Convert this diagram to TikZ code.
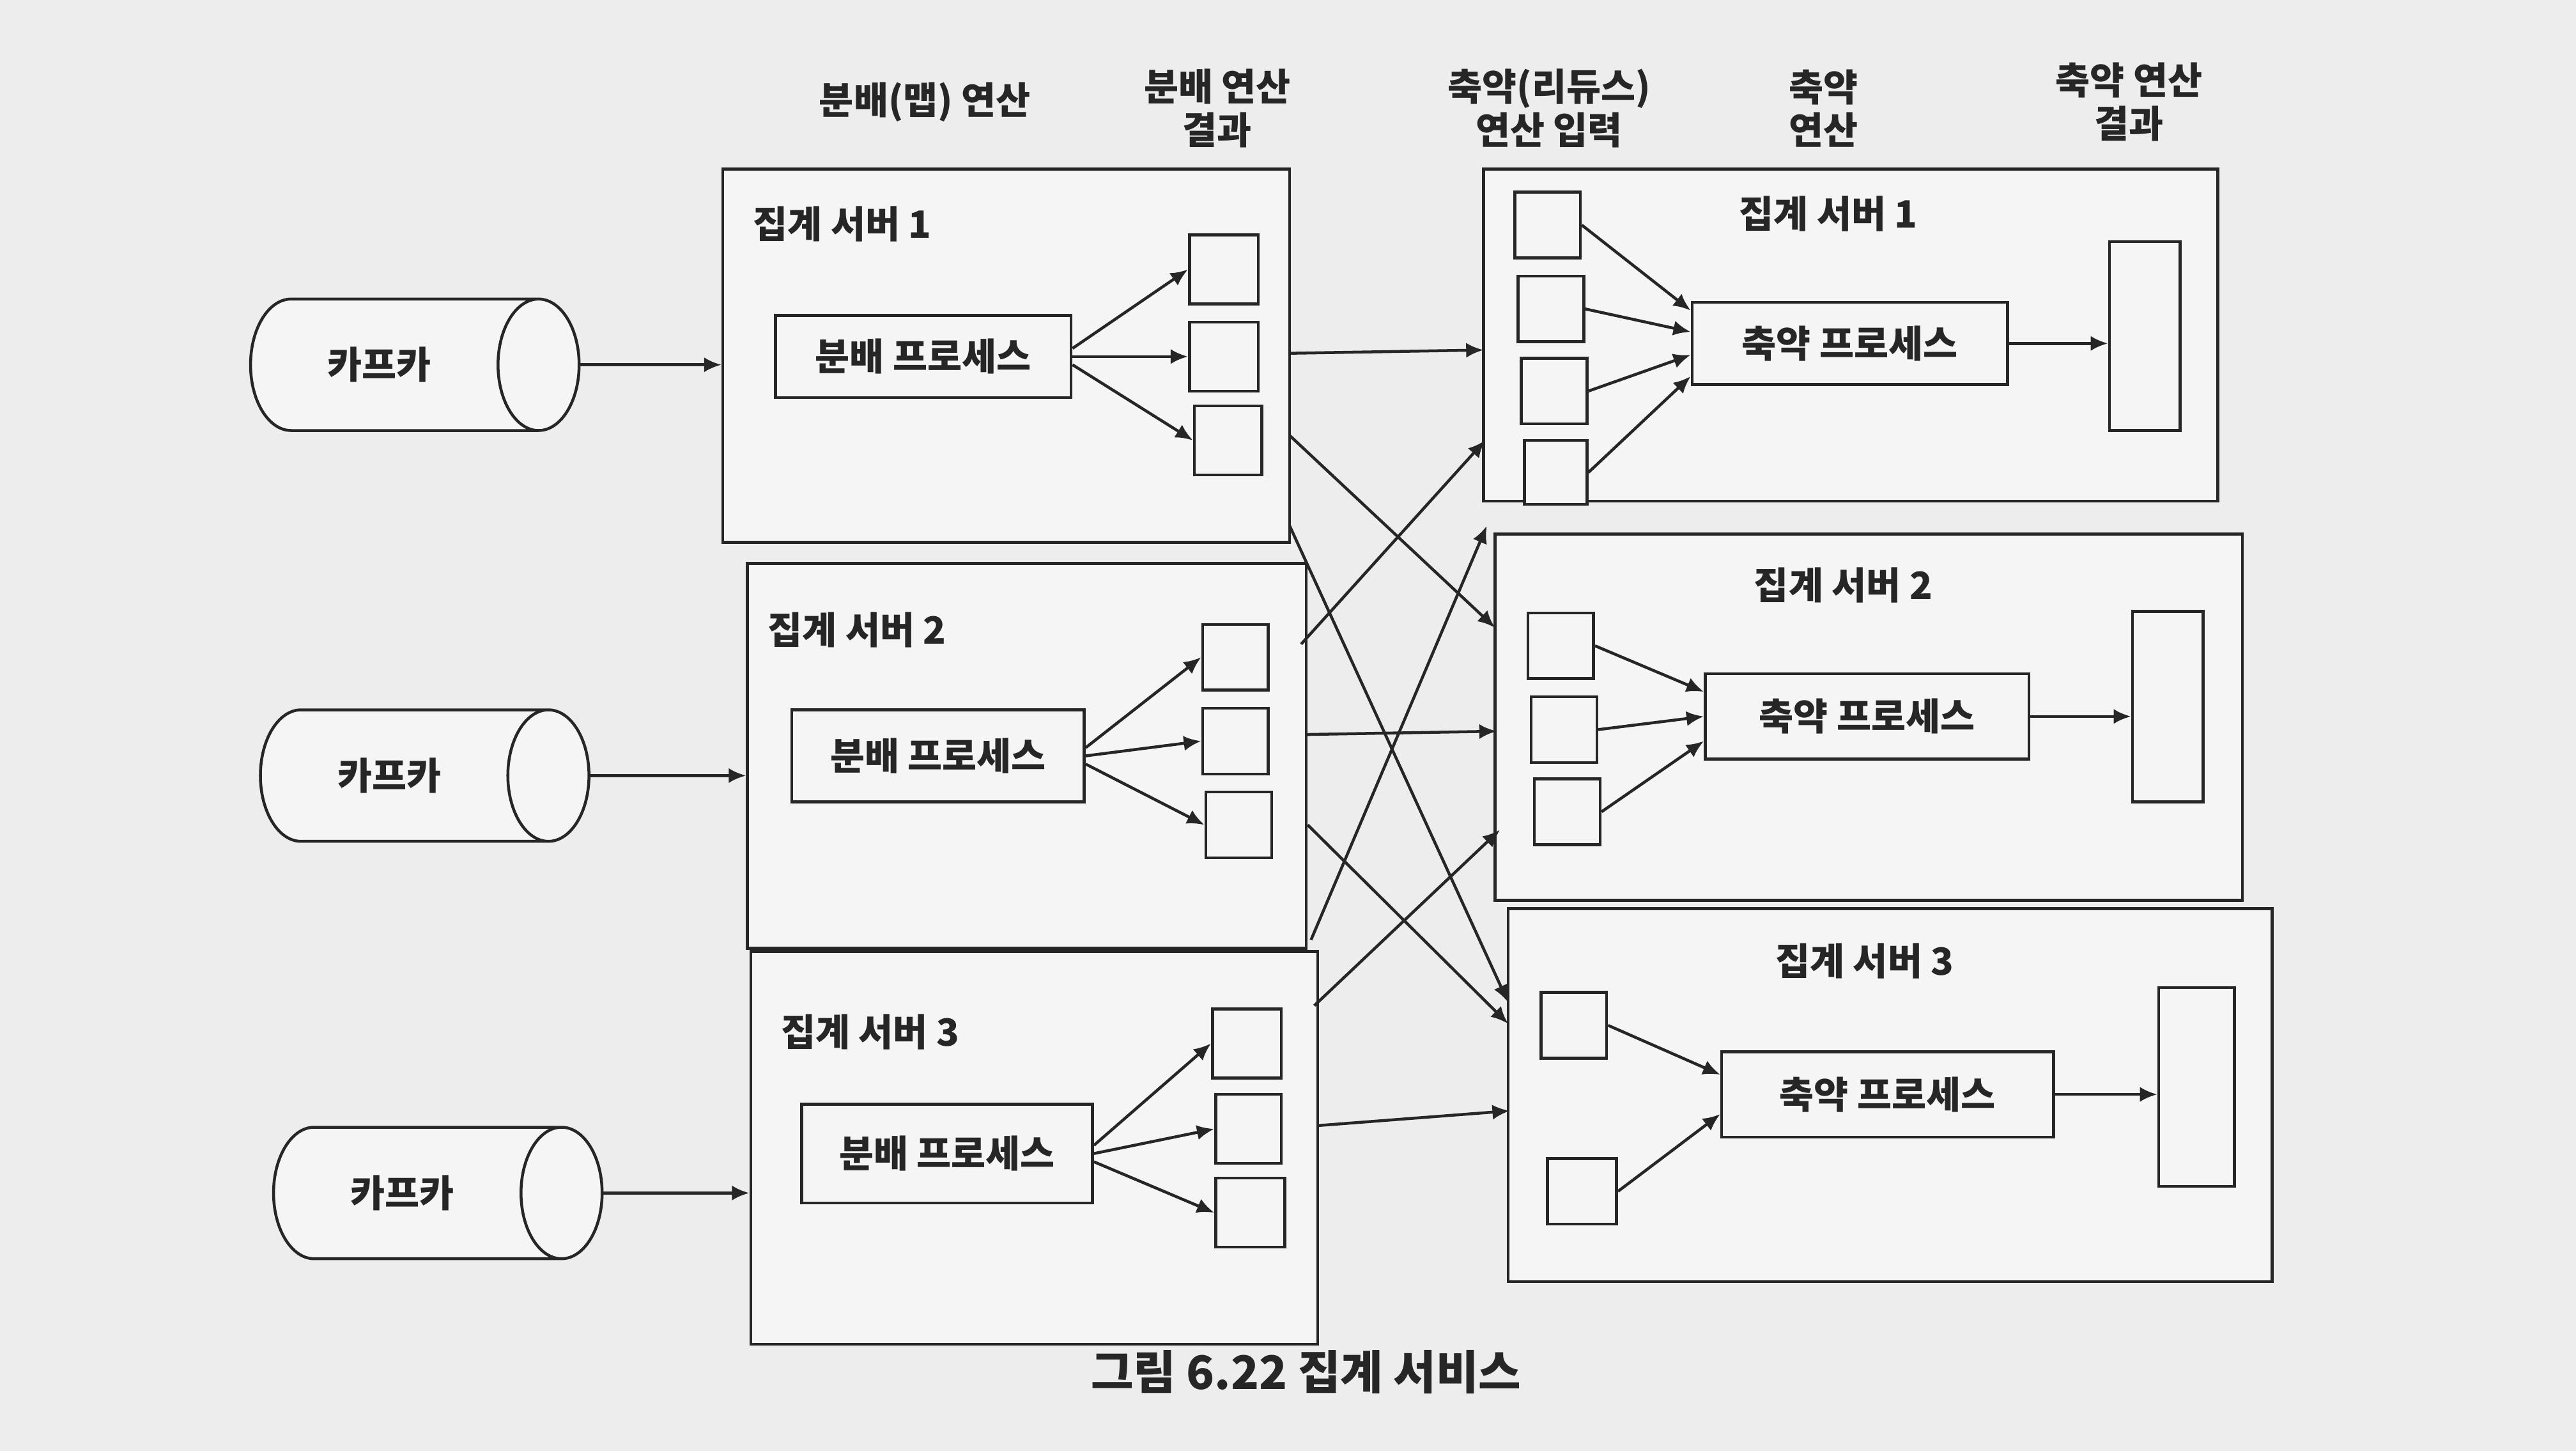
\documentclass[tikz,border=0pt]{standalone}
\usepackage{fontspec}
\setmainfont{Noto Sans CJK KR}
\usetikzlibrary{shapes.geometric,arrows.meta}
\newcommand\bx[6][box]{\node[#1,minimum width={(#5-#3)*0.01cm},minimum height={(#6-#4)*0.01cm}] (#2) at ({(#3+#5)/2},{(#4+#6)/2}) {};}
\newcommand\lbx[7][box]{\node[#1,minimum width={(#5-#3)*0.01cm},minimum height={(#6-#4)*0.01cm}] (#2) at ({(#3+#5)/2},{(#4+#6)/2}) {#7};}
\begin{document}
\begin{tikzpicture}[x=0.01cm,y=-0.01cm,
  box/.style={draw=black!85,line width=0.5pt,inner sep=0,fill=white!92!gray},
  lbl/.style={font=\fontsize{6.5}{7.5}\selectfont\bfseries,text=black!85},
  arr/.style={-{Latex[length=3pt,width=2.6pt]},line width=0.5pt,draw=black!85},
  kafka/.style={cylinder,draw=black!85,line width=0.5pt,aspect=1.1,minimum width={80*0.01cm},minimum height={200*0.01cm},fill=white!92!gray,font=\fontsize{6.5}{7.5}\selectfont\bfseries,text=black!85}]
\fill[gray!14] (0,0) rectangle (1568,883);
\useasboundingbox (0,0) rectangle (1568,883);
% headers
\node[lbl,align=center] (h1) at (563,62) {분배(맵) 연산};
\node[lbl,align=center] (h2) at (741,66) {분배 연산\\결과};
\node[lbl,align=center] (h3) at (943,66) {축약(리듀스)\\연산 입력};
\node[lbl,align=center] (h4) at (1110,66) {축약\\연산};
\node[lbl,align=center] (h5) at (1296,62) {축약 연산\\결과};
% left servers
\bx{L1}{440}{103}{785}{330}
\bx{L2}{455}{343}{795}{577}
\bx{L3}{457}{579}{802}{818}
\node[lbl,anchor=north west] (L1t) at (446,113) {집계 서버 1};
\node[lbl,anchor=north west] (L2t) at (455,360) {집계 서버 2};
\node[lbl,anchor=north west] (L3t) at (463,605) {집계 서버 3};
% kafkas
\node[kafka] (K1) at (231,222) {카프카};
\node[kafka] (K2) at (237,472) {카프카};
\node[kafka] (K3) at (245,726) {카프카};
% map processes
\lbx[box,lbl]{M1}{472}{192}{652}{242}{분배 프로세스}
\lbx[box,lbl]{M2}{482}{432}{660}{488}{분배 프로세스}
\lbx[box,lbl]{M3}{488}{672}{665}{732}{분배 프로세스}
\draw[arr] (K1.east) -- (L1.west|-K1.east);
\draw[arr] (K2.east) -- (L2.west|-K2.east);
\draw[arr] (K3.east) -- (L3.west|-K3.east);
% map outputs
\bx{a1}{724}{143}{766}{185}\bx{a2}{724}{196}{766}{238}\bx{a3}{727}{247}{768}{289}
\bx{b1}{732}{380}{772}{420}\bx{b2}{732}{431}{772}{471}\bx{b3}{734}{482}{774}{522}
\bx{c1}{738}{614}{780}{656}\bx{c2}{740}{666}{780}{708}\bx{c3}{740}{717}{782}{759}
\foreach \m/\o in {M1/a,M2/b,M3/c}{
  \draw[arr] ([yshift=0.05cm]\m.east) -- (\o1.west);
  \draw[arr] (\m.east) -- (\o2.west);
  \draw[arr] ([yshift=-0.05cm]\m.east) -- (\o3.west);}
% right servers
\bx{R1}{903}{103}{1350}{305}
\bx{R2}{910}{325}{1365}{548}
\bx{R3}{918}{553}{1383}{780}
\node[lbl] (R1t) at (1113,130) {집계 서버 1};
\node[lbl] (R2t) at (1122,356) {집계 서버 2};
\node[lbl] (R3t) at (1135,585) {집계 서버 3};
\bx{p1}{922}{117}{962}{157}\bx{p2}{924}{168}{964}{208}\bx{p3}{926}{218}{966}{258}\bx{p4}{928}{268}{966}{307}
\bx{q1}{930}{373}{970}{413}\bx{q2}{932}{424}{972}{464}\bx{q3}{934}{474}{974}{514}
\bx{r1}{938}{604}{978}{644}\bx{r2}{942}{705}{984}{745}
\lbx[box,lbl]{D1}{1030}{184}{1222}{234}{축약 프로세스}
\lbx[box,lbl]{D2}{1038}{410}{1235}{462}{축약 프로세스}
\lbx[box,lbl]{D3}{1048}{640}{1250}{692}{축약 프로세스}
\bx{O1}{1284}{147}{1327}{262}
\bx{O2}{1298}{372}{1341}{488}
\bx{O3}{1314}{601}{1360}{722}
\draw[arr] (p1.east) -- ([yshift=0.2cm]D1.west);
\draw[arr] (p2.east) -- ([yshift=0.07cm]D1.west);
\draw[arr] (p3.east) -- ([yshift=-0.07cm]D1.west);
\draw[arr] (p4.east) -- ([yshift=-0.2cm]D1.west);
\draw[arr] (q1.east) -- ([yshift=0.15cm]D2.west);
\draw[arr] (q2.east) -- (D2.west);
\draw[arr] (q3.east) -- ([yshift=-0.15cm]D2.west);
\draw[arr] (r1.east) -- ([yshift=0.12cm]D3.west);
\draw[arr] (r2.east) -- ([yshift=-0.12cm]D3.west);
\draw[arr] (D1.east) -- (O1.west|-D1.east);
\draw[arr] (D2.east) -- (O2.west|-D2.east);
\draw[arr] (D3.east) -- (O3.west|-D3.east);
% cross arrows
\coordinate (s11) at (785,215); \coordinate (s12) at (785,265); \coordinate (s13) at (785,320);
\coordinate (s21) at (792,392); \coordinate (s22) at (795,447); \coordinate (s23) at (796,502);
\coordinate (s31) at (798,572); \coordinate (s32) at (800,612); \coordinate (s33) at (802,685);
\coordinate (t11) at (903,213); \coordinate (t12) at (904,268); \coordinate (t13) at (905,320);
\coordinate (t21) at (910,382); \coordinate (t22) at (911,445); \coordinate (t23) at (913,505);
\coordinate (t31) at (918,610); \coordinate (t32) at (918,623); \coordinate (t33) at (919,676);
\draw[arr] (s11) -- (t11); \draw[arr] (s12) -- (t21); \draw[arr] (s13) -- (t31);
\draw[arr] (s21) -- (t12); \draw[arr] (s22) -- (t22); \draw[arr] (s23) -- (t32);
\draw[arr] (s31) -- (t13); \draw[arr] (s32) -- (t23); \draw[arr] (s33) -- (t33);
\node[lbl,font=\fontsize{8}{9}\selectfont\bfseries] (cap) at (795,835) {그림 6.22 집계 서비스};
\end{tikzpicture}
\end{document}
